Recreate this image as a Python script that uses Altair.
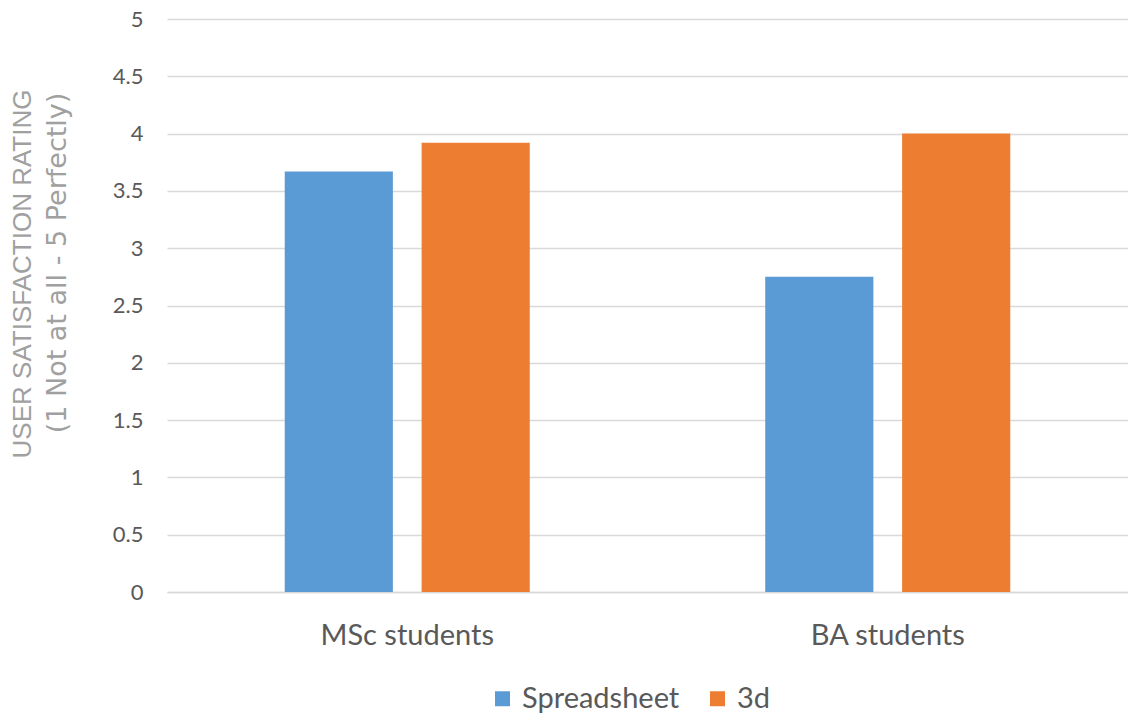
import altair as alt
import pandas as pd

# Survey results: mean user satisfaction per student group and interface
groups = ["MSc students", "MSc students", "BA students", "BA students"]
interfaces = ["Spreadsheet", "3d", "Spreadsheet", "3d"]
ratings = [3.67, 3.92, 2.75, 4.0]

group_order = ["MSc students", "BA students"]
interface_order = ["Spreadsheet", "3d"]
palette = ["#5B9BD5", "#ED7D31"]
y_ticks = [0, 0.5, 1, 1.5, 2, 2.5, 3, 3.5, 4, 4.5, 5]

df = pd.DataFrame({"group": groups, "interface": interfaces, "rating": ratings})

label_color = "#595959"
grid_color = "#D9D9D9"
title_color = "#A0A0A0"
body_font = "Lato"

bars = alt.Chart(df).mark_bar().encode(
    x=alt.X(
        "group:N",
        sort=group_order,
        scale=alt.Scale(paddingInner=0, paddingOuter=0),
        axis=alt.Axis(
            title=None,
            labelAngle=0,
            labelFontSize=29,
            labelFont=body_font,
            labelColor=label_color,
            labelPadding=29,
            ticks=False,
            grid=False,
            domainColor=grid_color,
            domainWidth=1.5,
        ),
    ),
    xOffset=alt.XOffset(
        "interface:N",
        sort=interface_order,
        scale=alt.Scale(paddingInner=0.21, paddingOuter=0.86),
    ),
    y=alt.Y(
        "rating:Q",
        scale=alt.Scale(domain=[0, 5], nice=False),
        axis=alt.Axis(
            title=None,
            values=y_ticks,
            format="~g",
            labelFontSize=22,
            labelFont=body_font,
            labelColor=label_color,
            labelPadding=24,
            ticks=False,
            domain=False,
            gridColor=grid_color,
            gridWidth=1.5,
        ),
    ),
    color=alt.Color(
        "interface:N",
        sort=interface_order,
        scale=alt.Scale(domain=interface_order, range=palette),
        legend=alt.Legend(
            title=None,
            orient="none",
            direction="horizontal",
            legendX=321,
            legendY=665,
            symbolType="square",
            symbolSize=225,
            symbolStrokeWidth=0,
            labelFontSize=29,
            labelFont=body_font,
            labelColor=label_color,
            columnPadding=23,
            labelOffset=5,
        ),
    ),
)

# Two-line y-axis title, second line in a wider face
title_main = alt.Chart(pd.DataFrame({"t": ["USER SATISFACTION RATING"]})).mark_text(
    angle=270, font="Liberation Sans", fontSize=26, color=title_color, baseline="middle", align="center"
).encode(text="t:N", x=alt.value(-144), y=alt.value(255))

title_sub = alt.Chart(pd.DataFrame({"t": ["(1 Not at all - 5 Perfectly)"]})).mark_text(
    angle=270, font="DejaVu Sans", fontSize=27, color=title_color, baseline="middle", align="center"
).encode(text="t:N", x=alt.value(-109), y=alt.value(244))

chart = (
    alt.layer(bars, title_main, title_sub)
    .properties(
        width=961,
        height=573,
        background="white",
        autosize=alt.AutoSizeParams(type="none"),
        padding={"left": 167, "top": 19, "right": 0, "bottom": 121},
    )
    .configure_view(strokeWidth=0)
)

chart.save("out.html", embed_options={"renderer": "svg", "actions": False})
